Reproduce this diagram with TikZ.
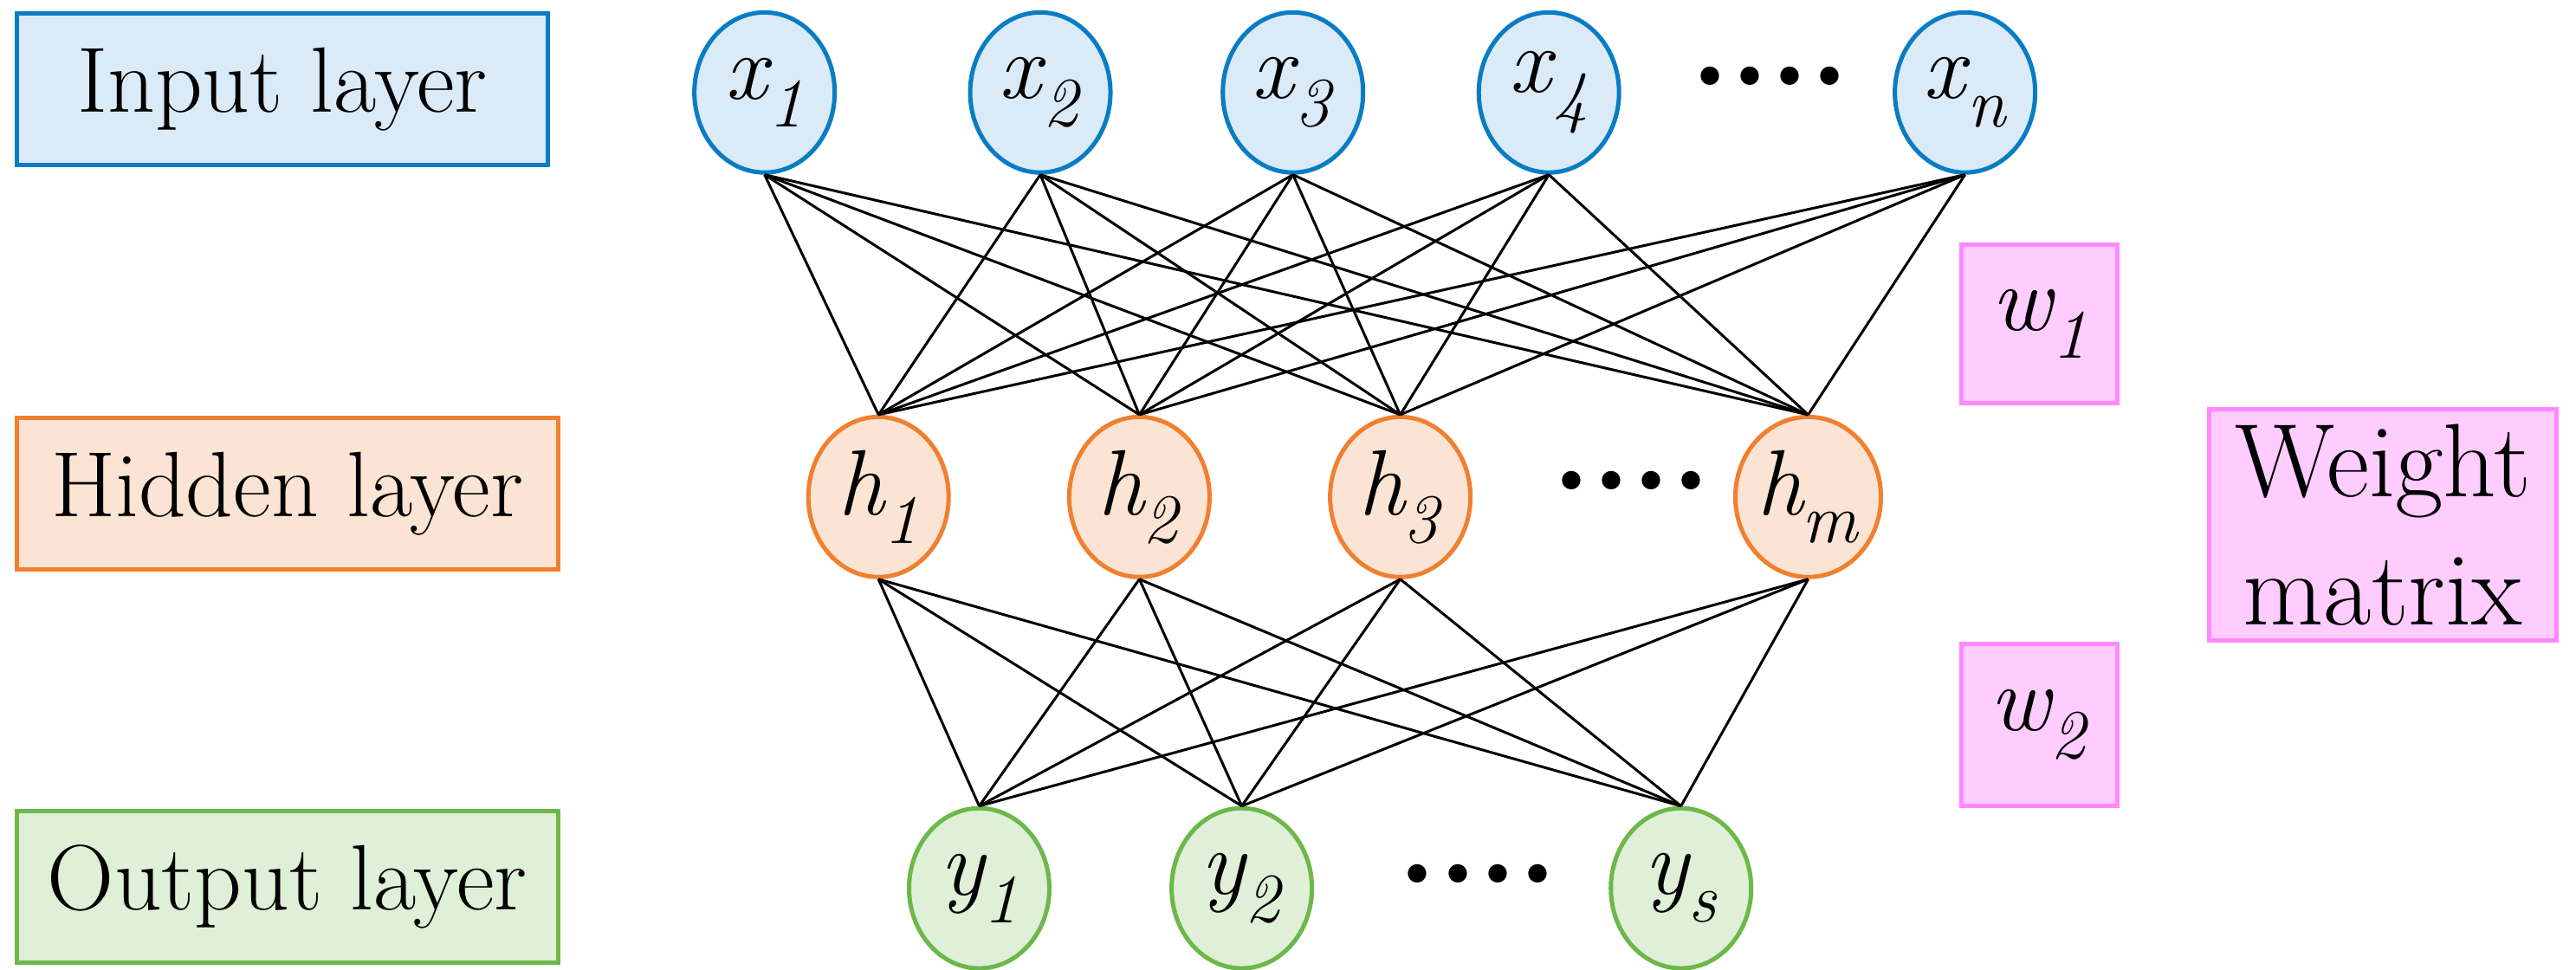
\documentclass[tikz,border=0pt]{standalone}
\usetikzlibrary{shapes.geometric}
\definecolor{bb}{HTML}{0A7CC4}\definecolor{bf}{HTML}{DAEAF6}
\definecolor{ob}{HTML}{F08030}\definecolor{of}{HTML}{FCE4D4}
\definecolor{gb}{HTML}{6CB84A}\definecolor{gf}{HTML}{DFEFD8}
\definecolor{pb}{HTML}{FF88FF}\definecolor{pf}{HTML}{FFCCFF}
\newcommand{\vv}[2]{\textit{#1}\kern-1pt\raisebox{-0.3em}{\fontsize{24}{24}\selectfont\textit{#2}}}
\tikzset{
 every node/.style={font=\fontsize{32}{38}\selectfont},
 lab/.style={draw, line width=1.5pt, minimum width=6.44cm, minimum height=1.84cm, inner sep=0pt},
 neu/.style={ellipse, draw, line width=1.5pt, minimum width=1.7cm, minimum height=1.94cm, inner sep=0pt},
 inpn/.style={neu, draw=bb, fill=bf},
 hidn/.style={neu, draw=ob, fill=of},
 outn/.style={neu, draw=gb, fill=gf},
 wt/.style={draw=pb, fill=pf, line width=1.5pt, inner sep=0pt, align=center},
 con/.style={line width=0.9pt, black},
 dots/.style={font=\fontsize{44}{44}\selectfont\bfseries}
}
\begin{document}
\begin{tikzpicture}[x=0.02cm,y=-0.02cm]
\useasboundingbox (0,0) rectangle (1560,587);
\node[lab, draw=bb, fill=bf] (L1) at (171,54) {Input layer};
\node[lab, draw=ob, fill=of, minimum width=6.56cm] (L2) at (174,299) {Hidden layer};
\node[lab, draw=gb, fill=gf, minimum width=6.56cm] (L3) at (174,537) {Output layer};
\foreach \n/\x/\s in {1/463/1,2/630/2,3/783/3,4/938/4,5/1190/n}
  \node[inpn] (x\n) at (\x,56) {\vv{x}{\s}};
\foreach \n/\x/\s in {1/532/1,2/690/2,3/848/3,4/1095/m}
  \node[hidn] (h\n) at (\x,301) {\vv{h}{\s}};
\foreach \n/\x/\s in {1/593/1,2/752/2,3/1018/s}
  \node[outn] (y\n) at (\x,538) {\vv{y}{\s}};
\node[dots] (d1) at (1072,46) {....};
\node[dots] (d2) at (988,291) {....};
\node[dots] (d3) at (895,529) {....};
\foreach \i in {1,...,5} \foreach \j in {1,...,4} \draw[con] (x\i.south) -- (h\j.north);
\foreach \i in {1,...,4} \foreach \j in {1,...,3} \draw[con] (h\i.south) -- (y\j.north);
\node[wt, minimum width=1.88cm, minimum height=1.92cm] (w1) at (1235,196) {\vv{w}{1}};
\node[wt, minimum width=1.88cm, minimum height=1.96cm] (w2) at (1235,439) {\vv{w}{2}};
\node[wt, minimum width=4.2cm, minimum height=2.8cm, font=\fontsize{36}{44}\selectfont] (wm) at (1443,318) {Weight\\matrix};
\end{tikzpicture}
\end{document}
